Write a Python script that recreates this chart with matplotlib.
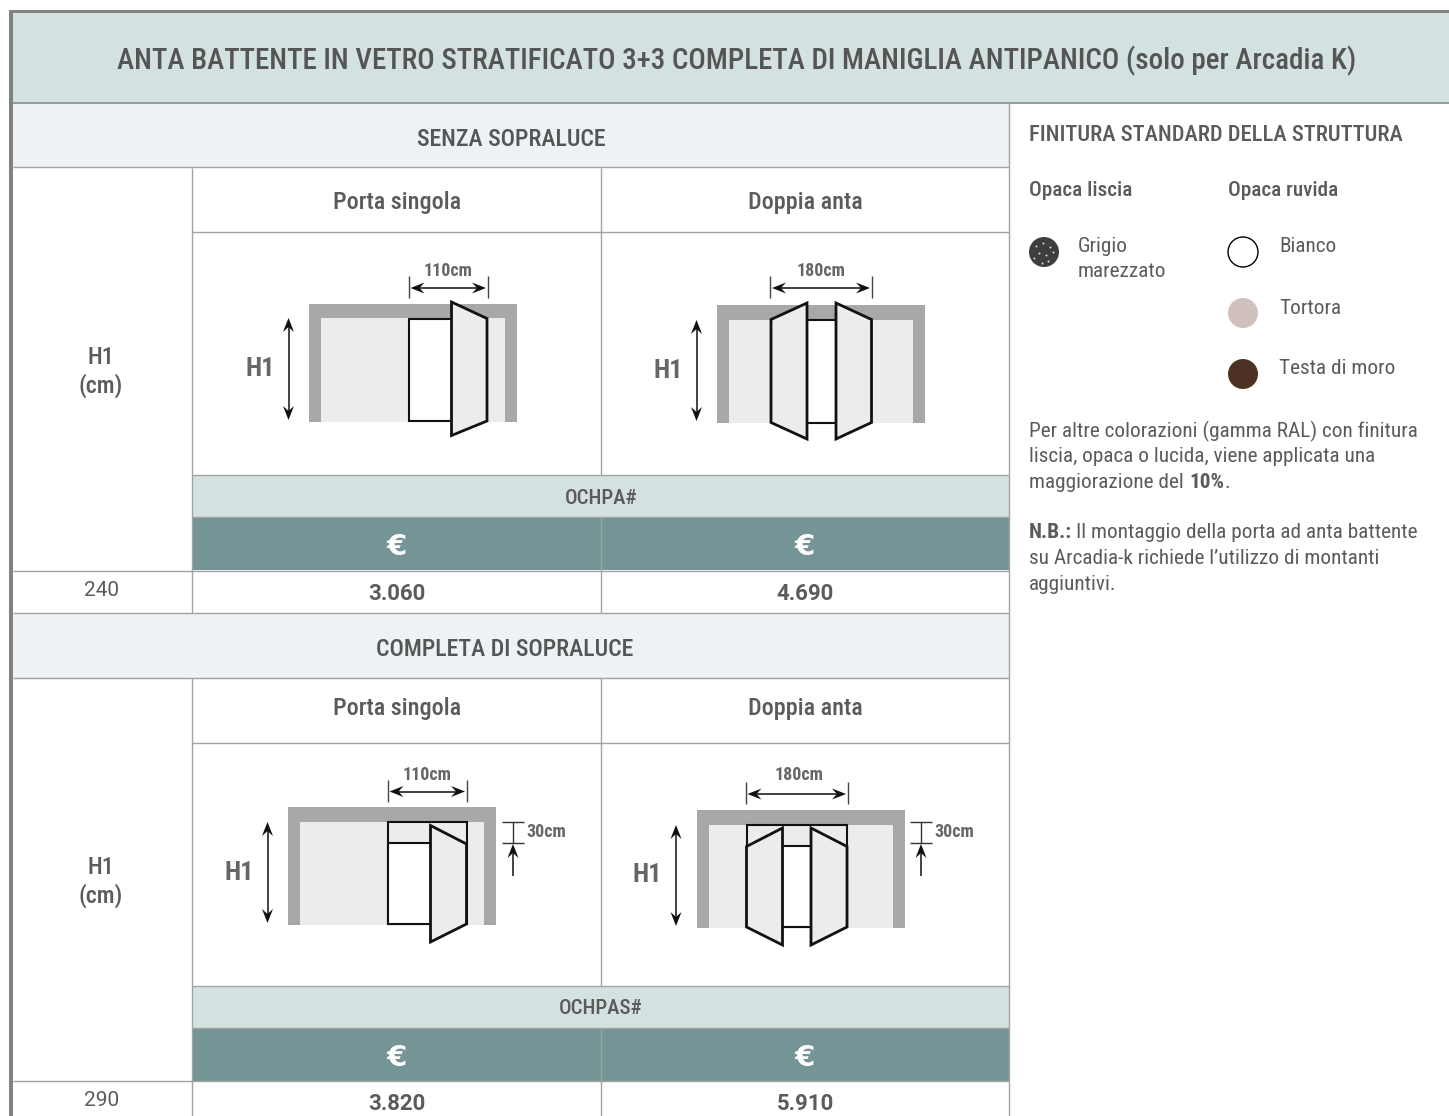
#!/usr/bin/env python3
"""Price table for the battente door, drawn on a pixel-sized axes."""
import matplotlib
matplotlib.use("Agg")
import matplotlib.pyplot as plt
from matplotlib.patches import Rectangle, Polygon, Circle

plt.rcParams["font.family"] = ["Roboto Condensed", "Roboto", "DejaVu Sans"]

TITLE = "ANTA BATTENTE IN VETRO STRATIFICATO 3+3 COMPLETA DI MANIGLIA ANTIPANICO (solo per Arcadia K)"
SECTIONS = ["SENZA SOPRALUCE", "COMPLETA DI SOPRALUCE"]
DOOR_TYPES = ["Porta singola", "Doppia anta"]
CODES = ["OCHPA#", "OCHPAS#"]
HEIGHTS = ["240", "290"]
PRICES_SINGLE = ["3.060", "3.820"]
PRICES_DOUBLE = ["4.690", "5.910"]
WIDTHS = ["110cm", "180cm"]
FINISH_SMOOTH = ["Grigio\nmarezzato"]
FINISH_ROUGH = ["Bianco", "Tortora", "Testa di moro"]
ROUGH_COLORS = ["white", "#d0c1bc", "#4d3224"]

TXT = "#5b5b5b"
LINE = "#a3a3a3"
BAND = "#d3e1e1"
PALE = "#edf2f5"
TEAL = "#749496"
WALL = "#a8a8a8"
GLASS = "#ececec"
INK = "#111111"

fig = plt.figure(figsize=(14.49, 11.16), dpi=100)
ax = fig.add_axes([0, 0, 1, 1])
ax.set_xlim(0, 1449); ax.set_ylim(1116, 0); ax.axis("off")


def box(x0, y0, x1, y1, fc, z=1):
    ax.add_patch(Rectangle((x0, y0), x1 - x0, y1 - y0, fc=fc, ec="none", zorder=z))


def hline(y, x0, x1, c=LINE, lw=1.0, z=2):
    ax.plot([x0, x1], [y, y], color=c, lw=lw, zorder=z, solid_capstyle="butt")


def vline(x, y0, y1, c=LINE, lw=1.0, z=2):
    ax.plot([x, x], [y0, y1], color=c, lw=lw, zorder=z, solid_capstyle="butt")


def label(x, y, s, size=15, weight="normal", c=TXT, ha="center", **kw):
    ax.text(x, y + 1, s, fontsize=size, fontweight=weight, color=c, ha=ha, va="center", zorder=6, **kw)


def head(x, y, dx, dy):
    # notched arrow head, tip at (x, y), pointing along (dx, dy)
    px, py = -dy, dx
    pts = [(x, y), (x - 14 * dx + 5.5 * px, y - 14 * dy + 5.5 * py),
           (x - 9 * dx, y - 9 * dy), (x - 14 * dx - 5.5 * px, y - 14 * dy - 5.5 * py)]
    ax.add_patch(Polygon(pts, closed=True, fc=INK, ec="none", zorder=6))


def harrow(x0, x1, y):
    hline(y, x0 + 6, x1 - 6, "#333333", 1.3, 6)
    head(x0, y, -1, 0); head(x1, y, 1, 0)


def varrow(x, y0, y1):
    vline(x, y0 + 6, y1 - 6, INK, 1.1, 6)
    head(x, y0, 0, -1); head(x, y1, 0, 1)


def frame(x0, y0):
    # grey wall outline with the pale glass inside, 208 x 118 px
    box(x0, y0, x0 + 208, y0 + 118, WALL, 3)
    box(x0 + 12, y0 + 14.5, x0 + 196, y0 + 118, GLASS, 3.1)


def leaf(pts):
    ax.add_patch(Polygon(pts, closed=True, fc=GLASS, ec=INK, lw=2.0, zorder=5, joinstyle="miter"))


def door(x0, y0, x1, y1, fc="white", lw=1.5):
    ax.add_patch(Rectangle((x0, y0), x1 - x0, y1 - y0, fc=fc, ec=INK, lw=lw, zorder=4))


def dims(xl, xr, y, text, tx, ty, hx, hy0, hy1, htx, hty):
    vline(xl, y - 12, y + 10, "#444444", 1.0, 6)
    vline(xr, y - 12, y + 10, "#444444", 1.0, 6)
    harrow(xl + 2, xr - 2, y)
    label(tx, ty, text, size=13, weight="bold", c="#666666")
    varrow(hx, hy0, hy1)
    label(htx, hty, "H1", size=19, weight="bold", c="#666666")


def thirty(x):
    hline(821.5, x, x + 22, "#333333", 1.0, 6)
    hline(842.5, x, x + 22, "#333333", 1.0, 6)
    vline(x + 11, 821.5, 842.5, "#333333", 1.0, 6)
    vline(x + 11, 850, 876, INK, 1.1, 6)
    head(x + 11, 844, 0, -1)
    label(x + 24, 831, "30cm", size=13, weight="bold", c="#666666", ha="left")


# ---- backgrounds
box(13, 13, 1449, 102, BAND)
for y0, y1 in [(103, 167), (614, 678)]:
    box(13, y0, 1009, y1, PALE)
for y0, y1 in [(476, 517), (987, 1028)]:
    box(192, y0, 1009, y1, BAND)
for y0, y1 in [(518, 570), (1029, 1081)]:
    box(192, y0, 1009, y1, TEAL)

# ---- outer border
box(9, 10, 13, 1116, "#828282", 3)
box(9, 10, 1449, 13, "#828282", 3)
hline(102.5, 13, 1449, "#8f9c9c", 1.4)

# ---- grid of the table
for y in [167, 232, 475, 517, 570.5, 613, 678, 742.5, 985.5, 1028, 1081]:
    x0 = 192 if y in (232, 475, 517, 742.5, 985.5, 1028) else 13
    hline(y, x0, 1009)
for y0, y1 in [(168, 613), (678, 1116)]:
    vline(192, y0, y1)
for y0, y1 in [(168, 475), (518, 613), (678, 986), (1029, 1116)]:
    vline(600.7, y0, y1)
vline(1008.7, 103, 1116)

# ---- texts of the table
label(737, 59.5, TITLE, size=20.9, weight=500, c="#555555")
label(511, 138, SECTIONS[0], size=17.2, weight=500, c="#555555")
label(505, 648, SECTIONS[1], size=17.2, weight=500, c="#555555")
for k, top in enumerate([0, 507]):
    label(397, 201 + top, DOOR_TYPES[0], size=17.4, weight=500)
    label(805, 201 + top, DOOR_TYPES[1], size=17.4, weight=500)
    label(101, 371 + k * 3 + top, "H1\n(cm)", size=17.2, weight=500, linespacing=1.2)
    label(601, 498 + top + k * 3, CODES[k], size=15, weight=500)
    for x in (397, 805):
        label(x, 546 + top + k * 4, "€", size=21, weight="bold", c="white", family="DejaVu Sans")
    label(101.5, 590 + top + k * 3, HEIGHTS[k], size=15, family="Roboto")
    label(397, 592.5 + top + k * 4, PRICES_SINGLE[k], size=16, weight="bold", family="Roboto")
    label(805, 592.5 + top + k * 4, PRICES_DOUBLE[k], size=16, weight="bold", family="Roboto")

# ---- door drawings
frame(309, 303.5)
door(409, 319, 452, 421)
leaf([(451.5, 302), (487, 318.5), (487, 421), (451.5, 435.5)])
dims(408.5, 488, 288, WIDTHS[0], 448, 270.5, 288.5, 318, 420, 260, 368)

frame(717, 305)
door(806, 320, 837, 422.5)
leaf([(771, 319.5), (807, 303), (807, 439), (771, 422.5)])
leaf([(836, 303), (871.5, 319.5), (871.5, 422.5), (836, 439)])
dims(770, 872, 288, WIDTHS[1], 821, 270.5, 696.5, 320, 421, 668, 370)

frame(288, 807)
door(388, 821.5, 467, 924, GLASS)
door(388, 842.5, 431, 924)
leaf([(430.5, 825.5), (466.5, 844), (466.5, 924), (430.5, 942)])
dims(387.5, 467, 791.5, WIDTHS[0], 427, 774.5, 267.5, 822, 923, 239, 872)
thirty(502)

frame(697, 810)
door(746.5, 824.5, 847, 927, GLASS)
door(782, 845.5, 811.5, 927)
leaf([(746.5, 846.5), (782.5, 828), (782.5, 945), (746.5, 927)])
leaf([(811, 828), (847, 846.5), (847, 927), (811, 945)])
dims(745.5, 848, 794, WIDTHS[1], 799, 774.5, 676, 825, 926, 647, 874)
thirty(910)

# ---- finishes column
label(1029, 134, "FINITURA STANDARD DELLA STRUTTURA", size=16.2, weight=500, ha="left")
label(1029, 189, "Opaca liscia", size=15.2, weight=500, ha="left")
label(1228, 189, "Opaca ruvida", size=15.2, weight=500, ha="left")
ax.add_patch(Circle((1044, 252), 15, fc="#3e3e40", ec="none", zorder=4))
ax.scatter([1036, 1043, 1050, 1039, 1046, 1053, 1034, 1048, 1042], [246, 243, 247, 253, 255, 252, 258, 261, 263],
           s=2, color="#dddddd", linewidths=0, zorder=5)
ax.text(1078, 259, FINISH_SMOOTH[0], fontsize=15.3, color=TXT, va="center", ha="left", linespacing=1.36)
for name, col, y in zip(FINISH_ROUGH, ROUGH_COLORS, [252, 313, 374]):
    ec = "black" if col == "white" else "none"
    ax.add_patch(Circle((1243, y), 15, fc=col, ec=ec, lw=1.0, zorder=4))
    label(1279, y - 6, name, size=15.3, ha="left")

y = 430
for line in ["Per altre colorazioni (gamma RAL) con finitura",
             "liscia, opaca o lucida, viene applicata una"]:
    label(1029, y, line, size=15.3, ha="left")
    y += 25.5
label(1029, y, "maggiorazione del", size=15.3, ha="left")
label(1189, y, "10%", size=15.3, weight="bold", ha="left")
label(1224, y, ".", size=15.3, ha="left")
label(1029, 532, "N.B.:", size=15.3, weight="bold", ha="left")
for y, x, line in zip([532, 558, 583], [1076, 1029, 1029], ["Il montaggio della porta ad anta battente",
                                                           "su Arcadia-k richiede l’utilizzo di montanti",
                                                           "aggiuntivi."]):
    label(x, y, line, size=15.3, ha="left")

fig.savefig("out.png", dpi=100)
print("wrote out.png")
